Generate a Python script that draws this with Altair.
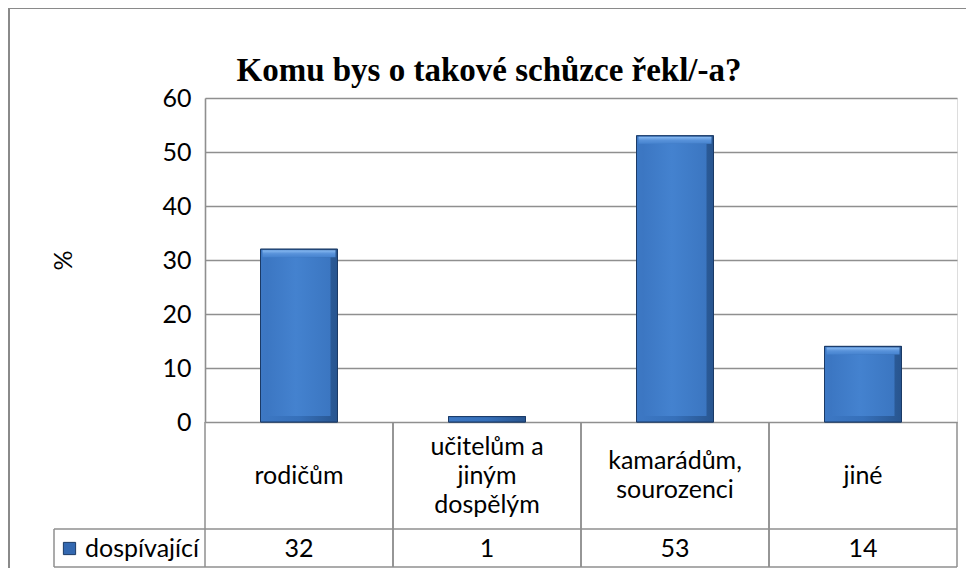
import altair as alt
import pandas as pd

# ---- data ----
title_text = "Komu bys o takové schůzce řekl/-a?"
y_title = "%"
series_name = "dospívající"
categories = ["rodičům", "učitelům a jiným dospělým", "kamarádům, sourozenci", "jiné"]
category_labels = ["rodičům", "učitelům a\njiným\ndospělým", "kamarádům,\nsourozenci", "jiné"]
values = [32, 1, 53, 14]
y_ticks = [0, 10, 20, 30, 40, 50, 60]
y_domain = [0, 60]

# ---- layout constants (pixels, plot-area coordinates) ----
W, H = 752, 324
HEADER_BOTTOM = 431
TABLE_BOTTOM = 469
LEFT_CELL = -151
LINE = "#8f8f8f"
FONT = "Lato"
FS = 25
LH = 29

df = pd.DataFrame({
    "category": categories,
    "label": category_labels,
    "nlines": [s.count("\n") + 1 for s in category_labels],
    "value": values,
    "series": [series_name] * len(categories),
})
title_df = pd.DataFrame({"title": [title_text]})

xscale = alt.Scale(domain=categories, paddingInner=0, paddingOuter=0)
x_enc = alt.X("category:N", sort=categories, scale=xscale, axis=None)
y_enc = alt.Y(
    "value:Q",
    scale=alt.Scale(domain=y_domain),
    axis=alt.Axis(
        values=y_ticks, grid=True, ticks=False, domain=True,
        gridColor=LINE, gridWidth=1.4, domainColor=LINE, domainWidth=1.6,
        labelFont=FONT, labelFontSize=FS, labelColor="black", labelPadding=14,
        title=y_title, titleFont=FONT, titleFontSize=FS, titleFontWeight="normal",
        titleColor="black", titleX=-142, titleY=H / 2, titleAngle=270,
        titleAlign="center", titleBaseline="middle",
    ),
)

base = alt.Chart(df)
single = alt.Chart(title_df)

bar_base = base.mark_bar(size=77, stroke="#1b3a66", strokeWidth=1).encode(
    x=x_enc,
    y=y_enc,
    y2=alt.datum(0),
    color=alt.Color(
        "series:N",
        scale=alt.Scale(range=["#3368b0"]),
        legend=alt.Legend(
            title=None, orient="none", legendX=-148, legendY=438,
            symbolType="square", symbolSize=150, symbolStrokeColor="#1b3a66",
            symbolStrokeWidth=1, labelFont=FONT, labelFontSize=FS,
            labelColor="black", labelOffset=3, padding=0,
        ),
    ),
)

side_grad = alt.LinearGradient(
    gradient="linear",
    stops=[alt.GradientStop(color="#3d78c4", offset=0),
           alt.GradientStop(color="#3670ba", offset=0.5),
           alt.GradientStop(color="#28558f", offset=1)],
    x1=0, x2=1, y1=0, y2=0,
)
bar_sides = base.mark_bar(
    size=77, fill=side_grad, stroke="#1b3a66", strokeWidth=1
).encode(x=x_enc, y=alt.Y("value:Q"), y2=alt.datum(0))

face_grad = alt.LinearGradient(
    gradient="linear",
    stops=[alt.GradientStop(color="#3c77c3", offset=0),
           alt.GradientStop(color="#4482cf", offset=0.45),
           alt.GradientStop(color="#3b76c1", offset=1)],
    x1=0, x2=1, y1=0, y2=0,
)
bar_face = base.transform_filter(alt.datum.value >= 4).mark_bar(
    size=63, fill=face_grad, yOffset=8, y2Offset=-6
).encode(x=x_enc, y=alt.Y("value:Q"), y2=alt.datum(0))

top_grad = alt.LinearGradient(
    gradient="linear",
    stops=[alt.GradientStop(color="#8abbf2", offset=0),
           alt.GradientStop(color="#5892da", offset=0.5),
           alt.GradientStop(color="#4683cf", offset=1)],
    x1=0, x2=0, y1=0, y2=1,
)
bar_top = base.transform_filter(alt.datum.value >= 4).mark_bar(
    size=73, fill=top_grad, yOffset=1, y2Offset=8
).encode(x=x_enc, y=alt.Y("value:Q"), y2=alt.Y2("value:Q"))

# ---- data table below the plot ----
rule_style = dict(color=LINE, strokeWidth=1.5)
vlines_start = base.mark_rule(**rule_style).encode(
    x=alt.X("category:N", sort=categories, scale=xscale, axis=None, bandPosition=0),
    y=alt.value(H), y2=alt.value(TABLE_BOTTOM),
)
vlines_end = base.mark_rule(**rule_style).encode(
    x=alt.X("category:N", sort=categories, scale=xscale, axis=None, bandPosition=1),
    y=alt.value(H), y2=alt.value(TABLE_BOTTOM),
)
hline_mid = single.mark_rule(**rule_style).encode(
    x=alt.value(LEFT_CELL), x2=alt.value(W), y=alt.value(HEADER_BOTTOM)
)
hline_bot = single.mark_rule(**rule_style).encode(
    x=alt.value(LEFT_CELL), x2=alt.value(W), y=alt.value(TABLE_BOTTOM)
)
vline_left = single.mark_rule(**rule_style).encode(
    x=alt.value(LEFT_CELL), y=alt.value(HEADER_BOTTOM), y2=alt.value(TABLE_BOTTOM)
)

header_mid = (H + HEADER_BOTTOM) / 2
cat_layers = []
for n in sorted(set(df["nlines"])):
    cat_layers.append(
        base.transform_filter(alt.datum.nlines == n).mark_text(
            font=FONT, fontSize=FS, color="black", lineBreak="\n", lineHeight=LH,
            align="center", baseline="middle", dy=-(n - 1) * LH / 2,
        ).encode(x=x_enc, y=alt.value(header_mid), text="label:N")
    )

val_text = base.mark_text(
    font=FONT, fontSize=FS, color="black", align="center", baseline="middle",
).encode(x=x_enc, y=alt.value((HEADER_BOTTOM + TABLE_BOTTOM) / 2 + 1), text="value:Q")

# ---- chart frame and title ----
frame_top = single.mark_rule(color="#8a8a8a", strokeWidth=2).encode(
    x=alt.value(-196), x2=alt.value(800), y=alt.value(-90)
)
frame_left = single.mark_rule(color="#8a8a8a", strokeWidth=2).encode(
    x=alt.value(-196), y=alt.value(-90), y2=alt.value(600)
)
title = single.mark_text(
    font="Liberation Serif", fontSize=33, fontWeight="bold", color="black",
    align="center", baseline="alphabetic",
).encode(x=alt.value(284), y=alt.value(-17), text="title:N")

chart = alt.layer(
    frame_top, frame_left, title,
    bar_base, bar_sides, bar_face, bar_top,
    vlines_start, vlines_end, hline_mid, hline_bot, vline_left,
    *cat_layers, val_text,
).properties(
    width=W, height=H,
    autosize=alt.AutoSizeParams(type="none"),
    padding={"left": 197, "top": 90, "right": 9, "bottom": 146},
).configure_view(stroke=None).configure(background="white")

chart.save("out.html", embed_options={"renderer": "svg", "actions": False})
